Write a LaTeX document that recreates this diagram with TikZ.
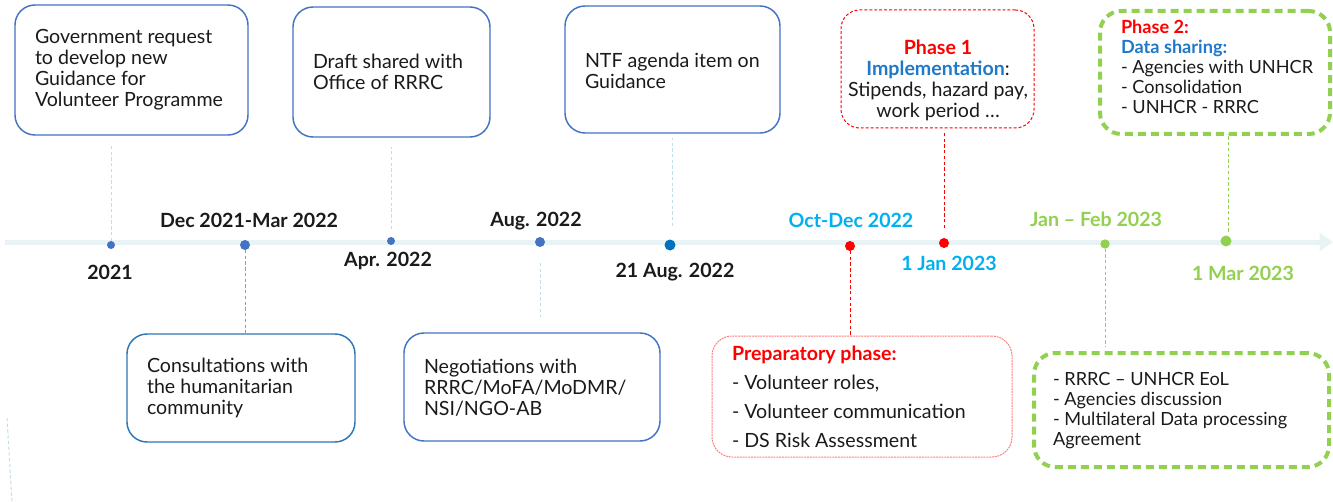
\documentclass[tikz,border=0pt]{standalone}
\usepackage{fontspec}
\setmainfont{Lato}
\usetikzlibrary{arrows.meta}
\definecolor{bblue}{HTML}{4472C4}
\definecolor{cblue}{HTML}{2E75B6}
\definecolor{dblue}{HTML}{0070C0}
\definecolor{hblue}{HTML}{1F78C8}
\definecolor{sky}{HTML}{00B0F0}
\definecolor{lgreen}{HTML}{92D050}
\definecolor{tline}{HTML}{E8F3F6}
\definecolor{lcyan}{HTML}{BFE0E6}
\definecolor{lblue}{HTML}{7E9FDA}
\definecolor{lred}{HTML}{FF8080}
\definecolor{ink}{HTML}{1A1A1A}
\begin{document}
\begin{tikzpicture}[x=0.75pt,y=-0.75pt,
  every node/.style={inner sep=0pt, outer sep=0pt, text=ink},
  body/.style={font=\fontsize{14.7pt}{15.75pt}\selectfont},
  txt/.style={body, anchor=west, align=left},
  evbox/.style={draw=bblue, line width=1.1pt, rounded corners=15pt},
  datelbl/.style={font=\fontsize{14.7pt}{16pt}\selectfont\bfseries},
  dotb/.style={circle, fill=#1, minimum size=6pt},
  conn/.style={draw=lcyan, line width=0.75pt, dash pattern=on 2.5pt off 1.8pt},
]
\useasboundingbox (0,0) rectangle (1333,502);

% timeline
\coordinate (tlstart) at (5,242);
\coordinate (tlend) at (1333,242);
\draw[tline, line width=3.75pt, -{Triangle[length=10pt,width=13pt]}] (tlstart) -- (tlend);

% boxes
\node[evbox, minimum width=174.75pt, minimum height=97.5pt] (box1) at (131.5,70) {};
\node[evbox, minimum width=147.75pt, minimum height=97.5pt] (box2) at (391.5,72) {};
\node[evbox, minimum width=161.25pt, minimum height=95.25pt] (box3) at (672.5,69.5) {};
\node[draw=red, line width=0.75pt, dash pattern=on 2.2pt off 1.5pt, rounded corners=14pt,
      minimum width=144.75pt, minimum height=88.5pt] (ph1) at (937.5,69) {};
\node[draw=lgreen, line width=3pt, dash pattern=on 6pt off 3.75pt, rounded corners=16pt,
      minimum width=172.5pt, minimum height=92.25pt] (ph2) at (1215,72.5) {};
\node[draw=cblue, line width=1.1pt, rounded corners=15pt,
      minimum width=171pt, minimum height=81pt] (cons) at (241,388) {};
\node[evbox, minimum width=192pt, minimum height=81pt] (nego) at (532,387) {};
\node[draw=lred, line width=0.75pt, dash pattern=on 1.5pt off 0.6pt, rounded corners=15pt,
      minimum width=225pt, minimum height=90.75pt] (prep) at (862,396.5) {};
\node[draw=lgreen, line width=3pt, dash pattern=on 6pt off 3.75pt, rounded corners=16pt,
      minimum width=221.25pt, minimum height=85.5pt] (gbox) at (1181.5,410) {};

% texts
\node[txt] (t1) at (35,69.5) {Government request\\to develop new\\Guidance for\\Volunteer Programme};
\node[txt] (t2) at (313,71.5) {Draft shared with\\Office of RRRC};
\node[txt] (t3) at (585,70.5) {NTF agenda item on\\Guidance};
\node[body, align=center] (t4) at (938,80.5) {{\bfseries\color{red}Phase 1}\\{\bfseries\color{hblue}Implementation}:\\Stipends, hazard pay,\\work period \ldots};
\node[anchor=west, align=left, font=\fontsize{13.6pt}{15pt}\selectfont] (t5) at (1121,67)
  {{\bfseries\color{red}Phase 2:}\\{\bfseries\color{hblue}Data sharing:}\\- Agencies with UNHCR\\- Consolidation\\- UNHCR - RRRC};
\node[txt] (t6) at (147,388) {Consultations with\\the humanitarian\\community};
\node[txt] (t7) at (424,388) {Negotiations with\\RRRC/MoFA/MoDMR/\\NSI/NGO-AB};
\node[anchor=west, align=left, font=\fontsize{14.7pt}{21.75pt}\selectfont] (t8) at (732,396.5)
  {{\bfseries\color{red}Preparatory phase:}\\- Volunteer roles,\\- Volunteer communication\\- DS Risk Assessment};
\node[anchor=west, align=left, font=\fontsize{13.6pt}{14.8pt}\selectfont] (t9) at (1053,410.5)
  {- RRRC -- UNHCR EoL\\- Agencies discussion\\- Multilateral Data processing\\Agreement};

% date labels
\node[datelbl] (l2021) at (110,272) {2021};
\node[datelbl] (ldec) at (249,220) {Dec 2021-Mar 2022};
\node[datelbl] (lapr) at (388,261) {Apr. 2022};
\node[datelbl] (laug) at (536,221) {Aug. 2022};
\node[datelbl] (l21) at (675,272) {21 Aug. 2022};
\node[datelbl, text=sky] (loct) at (851,220) {Oct-Dec 2022};
\node[datelbl, text=sky] (ljan) at (949,263) {1 Jan 2023};
\node[datelbl, text=lgreen] (ljf) at (1096,219) {Jan -- Feb 2023};
\node[datelbl, text=lgreen] (lmar) at (1243,273) {1 Mar 2023};

% dots
\node[dotb=bblue] (d2021) at (111,245) {};
\node[dotb=bblue, minimum size=7.5pt] (ddec) at (245,245) {};
\node[dotb=bblue] (dapr) at (391,241) {};
\node[dotb=bblue, minimum size=7.5pt] (daug) at (540,242) {};
\node[dotb=dblue, minimum size=8.25pt] (d21) at (670,245) {};
\node[dotb=red, minimum size=7.5pt] (doct) at (850,246) {};
\node[dotb=red, minimum size=7.5pt] (djan) at (944,243) {};
\node[dotb=lgreen, minimum size=7pt] (djf) at (1105,244) {};
\node[dotb=lgreen, minimum size=8.25pt] (dmar) at (1226,241) {};

% connectors
\coordinate (caug) at (540,317);
\coordinate (s1) at (7,418);
\coordinate (s2) at (12,502);
\draw[conn, shorten >=6.75pt] (d2021.north) -- (d2021.north |- box1.south);
\draw[conn, draw=lblue] (ddec.south) -- (ddec.south |- cons.north);
\draw[conn, shorten <=6pt, shorten >=7.5pt] (dapr.north) -- (dapr.north |- box2.south);
\draw[conn, shorten <=12pt] (daug.south) -- (caug);
\draw[conn, shorten <=10pt, shorten >=3.75pt] ([xshift=1.5pt]d21.north) -- ([xshift=1.5pt]d21.north |- box3.south);
\draw[conn, draw=red] (doct.south) -- (doct.south |- prep.north);
\draw[conn, draw=red, shorten <=7.5pt, shorten >=3.75pt] (djan.north) -- (djan.north |- ph1.south);
\draw[conn, draw=lgreen, shorten >=5pt] (djf.south) -- (djf.south |- gbox.north);
\draw[conn, draw=lgreen, shorten <=3pt] ([xshift=1.5pt]dmar.north) -- ([xshift=1.5pt]dmar.north |- ph2.south);
\draw[conn] (s1) -- (s2);
\end{tikzpicture}
\end{document}
